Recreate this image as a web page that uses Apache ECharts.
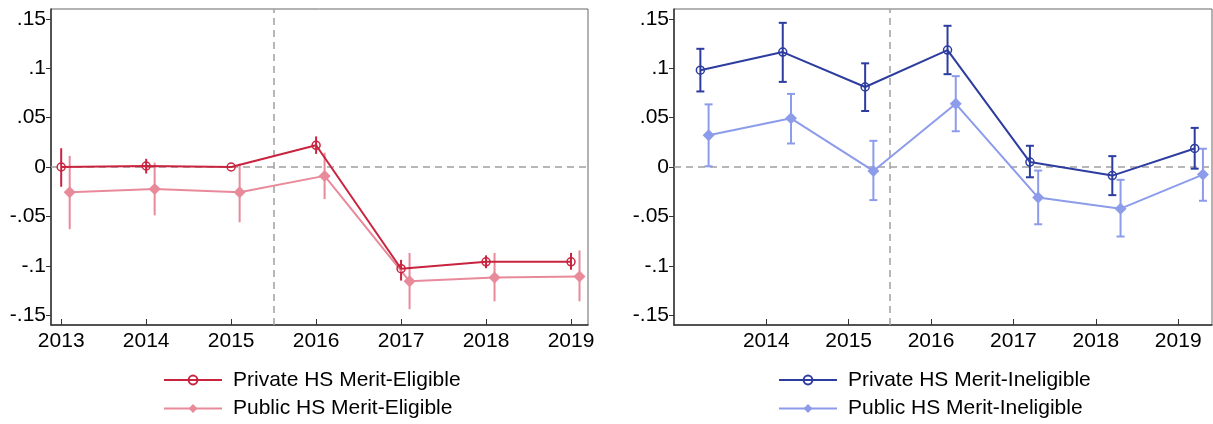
<!DOCTYPE html>
<html>
<head>
<meta charset="utf-8">
<script src="https://cdn.jsdelivr.net/npm/echarts@6/dist/echarts.min.js"></script>
<style>
  html, body { margin: 0; padding: 0; background: #fff; }
  #chart { width: 1213px; height: 424px; }
</style>
</head>
<body>
<div id="chart"></div>
<script>
    // categories / ticks
    const years = [2013, 2014, 2015, 2016, 2017, 2018, 2019];
    const xTicksLeft = [2013, 2014, 2015, 2016, 2017, 2018, 2019];
    const xTicksRight = [2014, 2015, 2016, 2017, 2018, 2019];
    const yTicks = [-0.15, -0.1, -0.05, 0, 0.05, 0.1, 0.15];

    // Merit-Eligible (left)
    const eligPrivate   = [0.000, 0.001, 0.000, 0.022, -0.103, -0.096, -0.096];
    const eligPrivateLo = [-0.020, -0.0066, -0.001, 0.0133, -0.115, -0.1025, -0.104];
    const eligPrivateHi = [0.019, 0.0083, 0.001, 0.031, -0.094, -0.0895, -0.087];
    const eligPublic    = [-0.0255, -0.0224, -0.0255, -0.009, -0.1157, -0.112, -0.111];
    const eligPublicLo  = [-0.063, -0.049, -0.056, -0.0325, -0.144, -0.136, -0.136];
    const eligPublicHi  = [0.0113, 0.0044, 0.0034, 0.0145, -0.087, -0.087, -0.0845];

    // Merit-Ineligible (right)
    const inelPrivate   = [0.098, 0.1164, 0.081, 0.1184, 0.005, -0.0087, 0.0188];
    const inelPrivateLo = [0.0765, 0.0862, 0.0567, 0.094, -0.0104, -0.0285, -0.0017];
    const inelPrivateHi = [0.1197, 0.146, 0.105, 0.143, 0.0215, 0.011, 0.0396];
    const inelPublic    = [0.0322, 0.0493, -0.004, 0.064, -0.031, -0.0422, -0.0077];
    const inelPublicLo  = [0.0007, 0.0238, -0.0335, 0.0362, -0.058, -0.0704, -0.0342];
    const inelPublicHi  = [0.0634, 0.074, 0.0265, 0.092, -0.0036, -0.013, 0.0185];

    const FONT = 'Liberation Sans, Arial, sans-serif';
    const FS = 21;
    const C_EP = '#c9243f', C_EU = '#e98a9b', C_IP = '#2c3c9f', C_IU = '#8c9ceb';

    function pts(vals, off) {
        return years.map((y, i) => [y + off, vals[i]]);
    }
    function bars(lo, hi, off) {
        return years.map((y, i) => [y + off, lo[i], hi[i]]);
    }
    function fmtY(v) {
        let s = String(Math.round(v * 100) / 100);
        return s.replace(/^(-?)0\./, '$1.');
    }

    function errSeries(idx, data, color, cap) {
        return {
            type: 'custom',
            xAxisIndex: idx, yAxisIndex: idx,
            z: 3,
            silent: true,
            data: data,
            encode: {x: 0, y: [1, 2]},
            renderItem (params, api) {
                const x = api.value(0);
                const top = api.coord([x, api.value(2)]);
                const bot = api.coord([x, api.value(1)]);
                const st = {stroke: color, lineWidth: 2};
                const ch = [{type: 'line', shape: {x1: top[0], y1: top[1], x2: bot[0], y2: bot[1]}, style: st}];
                if (cap) {
                    ch.push({type: 'line', shape: {x1: top[0] - 4, y1: top[1], x2: top[0] + 4, y2: top[1]}, style: st});
                    ch.push({type: 'line', shape: {x1: bot[0] - 4, y1: bot[1], x2: bot[0] + 4, y2: bot[1]}, style: st});
                }
                return {type: 'group', children: ch};
            }
        };
    }

    function lineSeries(idx, name, data, color, hollow, withRefs) {
        const s = {
            name: name,
            type: 'line',
            xAxisIndex: idx, yAxisIndex: idx,
            data: data,
            z: 4,
            symbol: hollow ? 'circle' : 'diamond',
            symbolSize: hollow ? 8 : 12,
            showAllSymbol: true,
            lineStyle: {color: color, width: 2},
            itemStyle: hollow ? {color: 'rgba(255,255,255,0)', borderColor: color, borderWidth: 1.5}
                              : {color: color, borderWidth: 0},
            emphasis: {disabled: true},
            animation: false
        };
        if (withRefs) {
            s.markLine = {
                silent: true,
                symbol: 'none',
                label: {show: false},
                lineStyle: {color: '#a0a0a0', type: [7, 5], width: 1.5},
                data: [{yAxis: 0}, {xAxis: 2015.5}],
                z: 1
            };
        }
        return s;
    }

    function xAxis(idx, min, max, ticks) {
        return {
            type: 'value', gridIndex: idx, min: min, max: max,
            splitLine: {show: false},
            axisLine: {onZero: false, lineStyle: {color: '#333', width: 1.5}},
            axisTick: {inside: true, length: 6, customValues: ticks, lineStyle: {color: '#333'}},
            axisLabel: {customValues: ticks, color: '#000', fontFamily: FONT, fontSize: FS, margin: 6,
                        formatter: v => String(Math.round(v))}
        };
    }
    function yAxis(idx) {
        return {
            type: 'value', gridIndex: idx, min: -0.16, max: 0.16,
            splitLine: {show: false},
            axisLine: {show: true, onZero: false, lineStyle: {color: '#333', width: 1.5}},
            axisTick: {show: true, length: 5, customValues: yTicks, lineStyle: {color: '#333'}},
            axisLabel: {customValues: yTicks, color: '#000', fontFamily: FONT, fontSize: FS, margin: 5,
                        formatter: fmtY}
        };
    }
    function legend(left, names) {
        return {
            orient: 'vertical', left: left, top: 368, height: 56,
            padding: 0,
            itemWidth: 58, itemHeight: 11, itemGap: 4.5,
            textStyle: {fontFamily: FONT, fontSize: FS, lineHeight: 24, color: '#000', padding: [0, 0, 0, 6]},
            data: names, selectedMode: false
        };
    }

    const names = ['Private HS Merit-Eligible', 'Public HS Merit-Eligible',
                   'Private HS Merit-Ineligible', 'Public HS Merit-Ineligible'];

    const option = {
        animation: false,
        backgroundColor: '#fff',
        grid: [
            {left: 51, top: 9, width: 537, height: 316, show: true, borderColor: '#666', borderWidth: 1},
            {left: 674, top: 9, width: 538, height: 316, show: true, borderColor: '#666', borderWidth: 1}
        ],
        xAxis: [xAxis(0, 2012.88, 2019.2, xTicksLeft), xAxis(1, 2012.88, 2019.41, xTicksRight)],
        yAxis: [yAxis(0), yAxis(1)],
        legend: [legend(163, names.slice(0, 2)), legend(778, names.slice(2))],
        series: [
            errSeries(0, bars(eligPublicLo, eligPublicHi, 0.1), C_EU, false),
            lineSeries(0, names[1], pts(eligPublic, 0.1), C_EU, false, true),
            errSeries(0, bars(eligPrivateLo, eligPrivateHi, 0), C_EP, false),
            lineSeries(0, names[0], pts(eligPrivate, 0), C_EP, true, false),
            errSeries(1, bars(inelPublicLo, inelPublicHi, 0.3), C_IU, true),
            lineSeries(1, names[3], pts(inelPublic, 0.3), C_IU, false, true),
            errSeries(1, bars(inelPrivateLo, inelPrivateHi, 0.2), C_IP, true),
            lineSeries(1, names[2], pts(inelPrivate, 0.2), C_IP, true, false)
        ]
    };

    const myChart = echarts.init(document.getElementById('chart'));
    myChart.setOption(option);
</script>
</body>
</html>
